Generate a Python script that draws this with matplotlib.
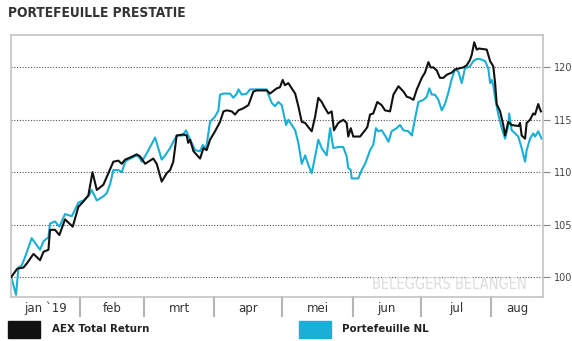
import matplotlib
matplotlib.use("Agg")
import matplotlib.pyplot as plt
from matplotlib.patches import Rectangle
from matplotlib.transforms import blended_transform_factory

# days since 1 jan 2019 and index values
aex_days = [0.5, 3.2, 5.9, 7.4, 10.3, 13.2, 14.7, 16.9, 17.6, 19.8, 21.7, 24.2, 27.6,
            30.1, 32.3, 34.5, 36.3, 38.2, 41.1, 43.3, 45.5, 47.7, 49.2, 50.7, 52.9,
            55.8, 57.3, 59.5, 63.1, 64.6, 66.8, 69.0, 70.5, 71.9, 73.4, 76.3, 77.8,
            78.5, 79.3, 80.8, 83.7, 85.2, 86.6, 88.1, 90.3, 92.5, 94.0, 95.5, 97.7,
            99.1, 100.6, 102.8, 105.0, 107.2, 108.7, 113.1, 114.5, 117.5, 118.9,
            120.1, 121.1, 122.6, 124.1, 125.6, 127.0, 128.5, 130.0, 131.4, 132.9,
            134.4, 135.8, 137.3, 138.8, 140.2, 141.7, 142.7, 144.6, 146.8, 148.3,
            149.0, 150.1, 151.2, 154.2, 156.4, 157.4, 158.6, 160.0, 161.8, 163.7,
            165.2, 167.4, 168.9, 171.1, 173.3, 174.8, 176.2, 177.7, 179.2, 181.4,
            182.8, 184.3, 185.3, 186.5, 188.0, 189.4, 190.9, 192.4, 194.6, 196.0,
            199.7, 201.2, 202.6, 203.4, 204.5, 205.6, 206.6, 210.0, 211.5, 212.9,
            213.7, 214.4, 215.9, 217.3, 218.1, 219.5, 221.0, 224.0, 224.7, 225.4,
            226.9, 227.6, 229.1, 230.5, 231.3, 232.0, 232.7, 233.5, 233.9]
aex = [100.0, 100.8, 100.9, 101.3, 102.2, 101.6, 102.4, 102.6, 104.5, 104.5, 104.0,
       105.5, 104.8, 106.7, 107.2, 107.8, 110.0, 108.3, 108.8, 109.9, 111.0, 111.1,
       110.8, 111.2, 111.4, 111.7, 111.5, 110.8, 111.3, 110.8, 109.1, 109.9, 110.2,
       111.0, 113.5, 113.6, 113.5, 112.8, 113.1, 112.0, 111.3, 112.3, 112.1, 113.1,
       113.9, 114.8, 115.8, 115.9, 115.8, 115.5, 115.9, 116.1, 116.4, 117.7, 117.8,
       117.8, 117.5, 118.0, 118.1, 118.8, 118.3, 118.5, 118.0, 117.5, 116.3, 114.8,
       114.7, 114.3, 113.9, 115.3, 117.1, 116.7, 116.1, 115.6, 115.8, 114.0, 114.7,
       115.0, 114.7, 113.4, 114.2, 113.4, 113.4, 114.0, 114.3, 115.5, 115.6, 116.7,
       116.4, 115.9, 115.8, 117.4, 118.2, 117.7, 117.2, 117.1, 116.9, 117.9, 119.0,
       119.5, 120.5, 120.0, 120.0, 119.7, 119.0, 119.0, 119.3, 119.5, 119.8, 120.0,
       120.2, 120.7, 121.2, 122.4, 121.7, 121.8, 121.7, 120.6, 120.1, 118.5, 116.5,
       115.8, 114.5, 113.5, 114.8, 114.5, 114.4, 114.7, 113.5, 113.2, 114.7, 115.0,
       115.6, 115.5, 116.0, 116.5, 116.0, 115.8]

nl_days = [0.5, 2.6, 3.7, 5.1, 6.6, 9.5, 13.2, 14.7, 16.9, 17.6, 19.8, 21.7, 24.2,
           27.2, 30.1, 32.3, 34.5, 36.0, 38.2, 41.1, 42.6, 44.1, 45.5, 47.7, 49.2,
           50.7, 52.1, 55.8, 57.3, 58.0, 60.2, 63.9, 66.8, 68.3, 70.5, 71.9, 73.4,
           76.1, 77.5, 78.5, 80.0, 81.5, 83.7, 84.9, 85.9, 86.6, 88.1, 90.3, 91.8,
           92.5, 94.0, 96.9, 98.4, 99.9, 100.6, 102.1, 104.3, 105.7, 113.1, 113.8,
           115.3, 116.7, 118.2, 119.7, 121.1, 121.6, 122.6, 124.1, 125.6, 127.0,
           128.5, 130.0, 131.4, 132.9, 134.4, 135.8, 137.3, 139.5, 141.0, 142.4,
           144.6, 146.8, 148.3, 149.0, 150.1, 150.5, 153.4, 154.9, 156.4, 157.8,
           158.6, 160.0, 161.2, 162.2, 163.7, 165.2, 166.7, 168.1, 170.3, 171.8,
           173.3, 175.5, 177.0, 178.4, 179.9, 182.1, 183.6, 184.7, 185.8, 187.2,
           188.7, 190.2, 191.6, 193.1, 194.6, 196.0, 197.5, 199.0, 200.4, 202.6,
           204.1, 205.6, 207.0, 209.3, 210.7, 211.5, 212.2, 212.9, 213.7, 215.1,
           216.6, 218.1, 219.5, 219.9, 221.0, 222.5, 223.9, 225.4, 226.9, 227.6,
           229.1, 230.5, 231.3, 232.7, 234.2]
nl = [100.0, 98.3, 100.9, 101.1, 101.9, 103.7, 102.6, 103.4, 103.8, 105.1, 105.3,
      104.8, 106.0, 105.8, 107.1, 107.3, 107.7, 108.3, 107.3, 107.7, 108.0, 108.9,
      110.2, 110.2, 110.0, 111.0, 111.2, 111.6, 111.3, 111.0, 111.8, 113.3, 111.2,
      111.6, 112.3, 112.9, 113.5, 113.5, 114.0, 113.5, 112.8, 112.1, 112.0, 112.6,
      112.3, 112.6, 114.8, 115.3, 115.9, 117.4, 117.5, 117.5, 117.1, 117.5, 117.9,
      117.4, 117.5, 117.9, 117.9, 117.4, 116.6, 116.3, 116.7, 116.4, 115.0, 114.5,
      115.0, 114.5, 114.0, 112.8, 110.8, 111.6, 110.7, 109.9, 111.5, 113.1, 112.3,
      111.6, 114.2, 112.3, 112.4, 112.4, 111.5, 110.4, 110.2, 109.4, 109.4, 110.2,
      110.8, 111.6, 112.1, 112.6, 114.2, 113.9, 114.0, 113.5, 112.9, 113.9, 114.2,
      114.5, 114.0, 113.9, 113.5, 115.1, 116.7, 116.9, 117.2, 118.0, 117.4, 117.4,
      116.9, 115.9, 116.5, 117.6, 118.9, 119.8, 119.6, 118.5, 119.9, 120.1, 120.6,
      120.8, 120.8, 120.6, 119.9, 118.5, 118.8, 118.3, 117.1, 115.5, 114.2, 113.2,
      114.5, 115.6, 114.0, 113.7, 113.4, 112.3, 111.0, 112.1, 113.2, 113.7, 113.4,
      113.9, 113.2]

month_starts = [0.4, 31, 59, 90, 120, 151, 181, 212, 234.8]
month_labels = ["jan `19", "feb", "mrt", "apr", "mei", "jun", "jul", "aug"]
y_ticks = [100, 105, 110, 115, 120]

black = "#111111"
blue = "#1aafd6"

fig = plt.figure(figsize=(5.72, 3.41), dpi=100)
ax = fig.add_axes([11 / 572, 44 / 341, 532 / 572, 262 / 341])

ax.plot(aex_days, aex, color=black, lw=1.5, zorder=3)
ax.plot(nl_days, nl, color=blue, lw=1.5, zorder=2)

ax.set_xlim(month_starts[0], month_starts[-1])
ax.set_ylim(98.09, 123.09)

for s in ax.spines.values():
    s.set_color("#c4c4c4")
    s.set_linewidth(1.2)

ax.yaxis.tick_right()
ax.set_yticks(y_ticks)
ax.set_yticklabels([str(t) for t in y_ticks])
ax.tick_params(axis="y", length=5, color="#888888", labelsize=7, labelcolor="#444444", pad=3)
ax.grid(axis="y", color="#555555", linestyle=(0, (1, 1.5)), lw=0.8)
ax.set_xticks([])

# month separators and labels under the axis
tr = blended_transform_factory(ax.transData, ax.transAxes)
for m in month_starts[1:-1]:
    ax.plot([m, m], [0, -0.072], color="#b5b5b5", lw=1.5, transform=tr, clip_on=False)
for i, lab in enumerate(month_labels):
    mid = (month_starts[i] + month_starts[i + 1]) / 2
    ax.text(mid, -0.043, lab, transform=tr, ha="center", va="center",
            fontsize=8.5, color="#333333")

ax.text(0.97, 0.02, "BELEGGERS BELANGEN", transform=ax.transAxes, ha="right",
        va="bottom", fontsize=10.5, color="#dcdcdc", fontstretch="condensed")

fig.text(8 / 572, 1 - 13 / 341, "PORTEFEUILLE PRESTATIE", ha="left", va="center",
         fontsize=9.8, fontweight="bold", color="#333333", fontstretch="condensed")

# legend
fig.add_artist(Rectangle((8 / 572, 3 / 341), 32 / 572, 17 / 341,
                         transform=fig.transFigure, color=black))
fig.text(52 / 572, 12 / 341, "AEX Total Return", ha="left", va="center",
         fontsize=8.2, fontweight="bold", color="#222222", fontstretch="condensed")
fig.add_artist(Rectangle((299 / 572, 3 / 341), 32 / 572, 17 / 341,
                         transform=fig.transFigure, color=blue))
fig.text(342 / 572, 12 / 341, "Portefeuille NL", ha="left", va="center",
         fontsize=8.2, fontweight="bold", color="#222222", fontstretch="condensed")

fig.savefig("out.png", dpi=100)
